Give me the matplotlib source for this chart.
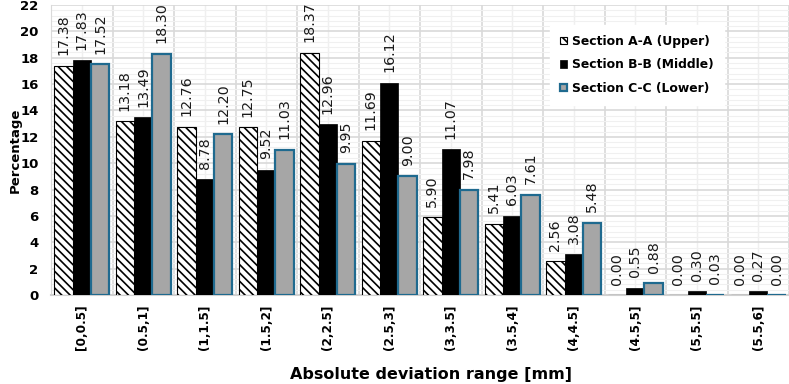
import matplotlib
matplotlib.use("Agg")
import matplotlib.pyplot as plt
import numpy as np
from matplotlib.ticker import MultipleLocator, FixedLocator

categories = ["[0,0.5]", "(0.5,1]", "(1,1.5]", "(1.5,2]", "(2,2.5]", "(2.5,3]",
              "(3,3.5]", "(3.5,4]", "(4,4.5]", "(4.5,5]", "(5,5.5]", "(5.5,6]"]
section_a = [17.38, 13.18, 12.76, 12.75, 18.37, 11.69, 5.90, 5.41, 2.56, 0.00, 0.00, 0.00]
section_b = [17.83, 13.49, 8.78, 9.52, 12.96, 16.12, 11.07, 6.03, 3.08, 0.55, 0.30, 0.27]
section_c = [17.52, 18.30, 12.20, 11.03, 9.95, 9.00, 7.98, 7.61, 5.48, 0.88, 0.03, 0.00]
series_names = ["Section A-A (Upper)", "Section B-B (Middle)", "Section C-C (Lower)"]

plt.rcParams['font.family'] = ['DejaVu Sans']
plt.rcParams['hatch.linewidth'] = 1.2

fig = plt.figure(figsize=(7.89, 3.84), dpi=100)
ax = fig.add_axes([51/789, 1-295/384, 1-51/789, 290/384])

x = np.arange(len(categories))
w = 0.3
b1 = ax.bar(x - w, section_a, w, color='white', edgecolor='black', hatch='\\\\\\\\',
            linewidth=0.8, label=series_names[0], zorder=3)
b2 = ax.bar(x, section_b, w, color='black', edgecolor='black', linewidth=0.5,
            label=series_names[1], zorder=3)
b3 = ax.bar(x + w, section_c, w, color='#a6a6a6', edgecolor='#1f6a8f', linewidth=1.6,
            label=series_names[2], zorder=3)

for bars, vals in [(b1, section_a), (b2, section_b), (b3, section_c)]:
    for rect, v in zip(bars, vals):
        ax.annotate(f"{v:.2f}", (rect.get_x() + rect.get_width()/2, v),
                    xytext=(0, 7.5), textcoords='offset points', rotation=90,
                    ha='center', va='bottom', fontsize=10.3, color='#1a1a1a', zorder=4,
                    annotation_clip=False)

ax.set_xlim(-0.5, len(categories) - 0.5)
ax.set_ylim(0, 22)
ax.yaxis.set_major_locator(MultipleLocator(2))
ax.yaxis.set_minor_locator(MultipleLocator(0.4))
ax.set_xticks(x)
ax.set_xticklabels(categories, rotation=90, fontsize=8.7, fontweight='bold', va='top')
ax.xaxis.set_minor_locator(FixedLocator(np.arange(-0.5, len(categories), 1.0)))
for lab in ax.get_yticklabels():
    lab.set_fontweight('bold')
ax.tick_params(axis='y', labelsize=9.5, length=0, pad=9, which='both')
ax.tick_params(axis='x', length=0, pad=7, which='both')

# gridlines
ax.grid(axis='y', which='major', color='#d9d9d9', linewidth=1.2, zorder=0)
ax.grid(axis='y', which='minor', color='#f0f0f0', linewidth=0.8, zorder=0)
ax.grid(axis='x', which='minor', color='#d9d9d9', linewidth=1.2, zorder=0)
ax.grid(axis='x', which='major', color='#efefef', linewidth=1.0, zorder=0)
ax.set_axisbelow(True)

for s in ['top', 'right']:
    ax.spines[s].set_visible(False)
ax.spines['left'].set_color('#d9d9d9')
ax.spines['bottom'].set_color('#d0d0d0')
ax.spines['bottom'].set_linewidth(1.5)

fig.text(431/789, 1-375/384, "Absolute deviation range [mm]", ha='center', va='center',
         fontsize=11.5, fontweight='bold')
fig.text(15/789, 1-150/384, "Percentage", ha='center', va='center', rotation=90,
         fontsize=9.5, fontweight='bold')

leg = ax.legend(loc='upper left', bbox_to_anchor=((550-51)/738, 1-(25-5)/290),
                frameon=True, fancybox=False, edgecolor='white', framealpha=1,
                prop={'size': 8.9, 'weight': 'bold'}, handlelength=0.6, handleheight=0.6,
                handletextpad=0.4, labelspacing=0.85, borderaxespad=0, borderpad=0.8)
leg.set_zorder(5)

fig.savefig("out.png", dpi=100)
